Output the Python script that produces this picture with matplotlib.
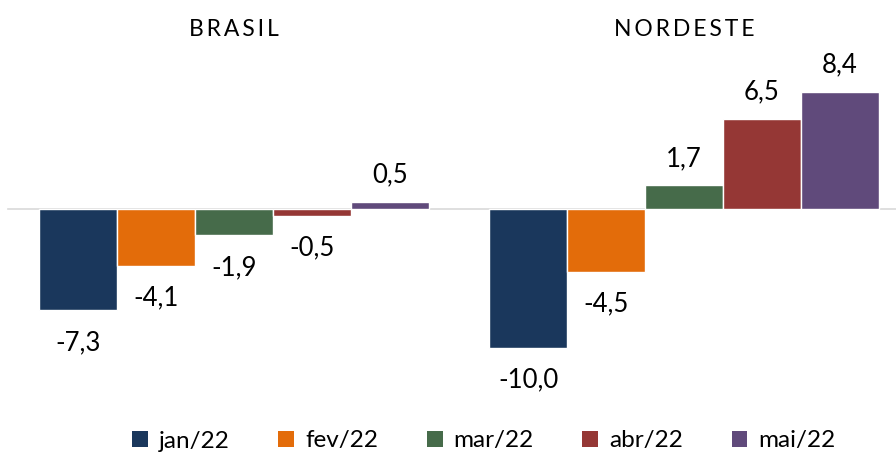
import matplotlib.pyplot as plt
from matplotlib.patches import Patch

# Data
regions = ["BRASIL", "NORDESTE"]
months = ["jan/22", "fev/22", "mar/22", "abr/22", "mai/22"]
jan = [-7.3, -10.0]
fev = [-4.1, -4.5]
mar = [-1.9, 1.7]
abr = [-0.5, 6.5]
mai = [0.5, 8.4]
series = [jan, fev, mar, abr, mai]
colors = ["#1A375C", "#E36C0A", "#466B4A", "#953735", "#604A7B"]

plt.rcParams['font.family'] = ['Lato', 'DejaVu Sans']

fig = plt.figure(figsize=(8.96, 4.55), dpi=100)
ax = fig.add_axes([0, 0, 1, 1])

px_x = 450.0   # pixels per group
px_y = 13.9    # pixels per unit
ax.set_xlim(-234 / px_x, (896 - 234) / px_x)
ax.set_ylim(-(455 - 209) / px_y, 209 / px_y)
ax.axis('off')

w = 78 / px_x
ax.axhline(0, xmin=8 / 896, xmax=1, color="#D9D9D9", lw=1.2, zorder=1)

for i, (vals, c) in enumerate(zip(series, colors)):
    xs = [g + (i - 2) * w for g in range(len(regions))]
    ax.bar(xs, vals, width=w, color=c, edgecolor="white", linewidth=1, zorder=2)
    for x, v in zip(xs, vals):
        lbl = f"{v:.1f}".replace(".", ",")
        off = 27 if v >= 0 else -32
        ax.annotate(lbl, (x, v), xytext=(0, off), textcoords="offset pixels",
                    ha="center", va="center", fontsize=18.5, color="black")

# group titles
for g, name in enumerate(regions):
    ax.text(g, (209 - 29) / px_y, "\u2009".join(name), ha="center", va="center",
            fontsize=16.5, color="black")

handles = [Patch(facecolor=c, label=m) for c, m in zip(colors, months)]
fig.legend(handles=handles, loc="center", bbox_to_anchor=(0.54, 1 - 441 / 455),
           ncol=5, frameon=False, fontsize=17.5, handlelength=0.65, handleheight=0.65,
           handletextpad=0.45, columnspacing=2.0)

plt.savefig("out.png", dpi=100)
